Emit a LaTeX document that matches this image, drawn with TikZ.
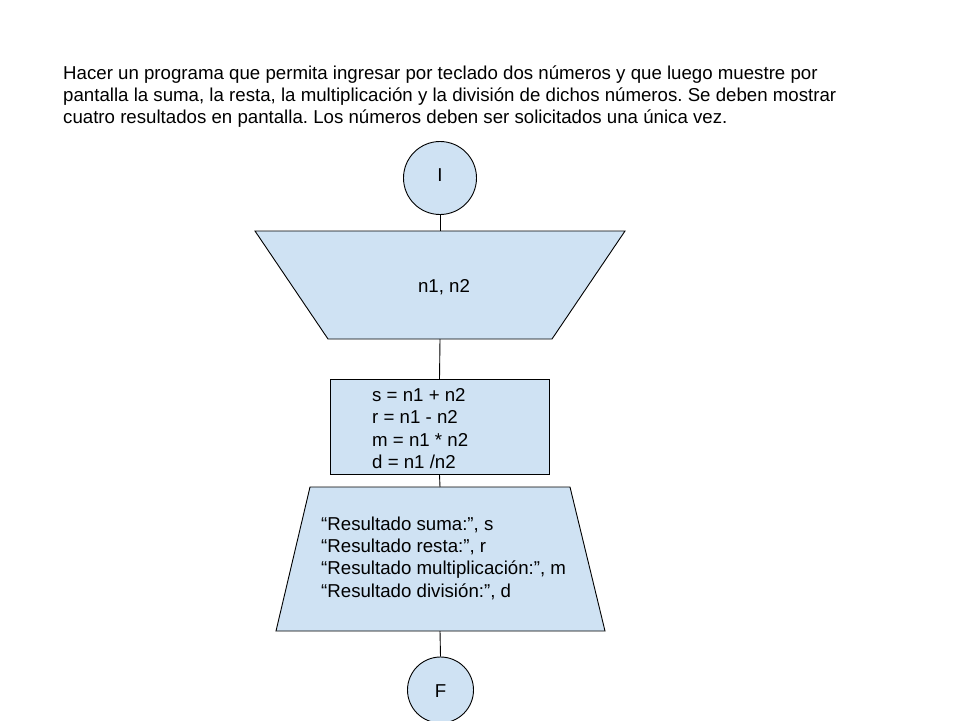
\documentclass[tikz,border=0pt]{standalone}
\usepackage{fontspec}
\setmainfont{Liberation Sans}
\frenchspacing
\definecolor{shapefill}{HTML}{CFE2F3}
\begin{document}
\begin{tikzpicture}[x=1pt,y=-1pt,
  shapebox/.style={draw=black,line width=0.9pt,fill=shapefill},
  conn/.style={draw=black,line width=0.9pt},
  txt/.style={inner sep=0pt,align=left,font=\fontsize{18.67}{22.3}\selectfont},
  toptxt/.style={inner sep=0pt,align=left,font=\fontsize{18.67}{22.2}\selectfont}]
\useasboundingbox (0,0) rectangle (960,720);
\fill[white] (0,0) rectangle (960,720);
% statement
\node[toptxt,anchor=base west] (stmt) at (63,123.4) {Hacer un programa que permita ingresar por teclado dos números y que luego muestre por\\pantalla la suma, la resta, la multiplicación y la división de dichos números. Se deben mostrar\\cuatro resultados en pantalla. Los números deben ser solicitados una única vez.};
% start
\node[shapebox,circle,minimum size=73pt,inner sep=0pt] (ini) at (440,178) {};
\node[txt,anchor=base] (initxt) at (440,181) {I};
% input trapezoid
\path[shapebox] (255,231) -- (625,231) -- (552,339) -- (328,339) -- cycle;
\coordinate (in1top) at (440,231);
\coordinate (in1bot) at (440,339);
\node[txt,anchor=base] (in1) at (444,292) {n1, n2};
% process
\node[shapebox,rectangle,minimum width=219pt,minimum height=95pt,inner sep=0pt] (proc) at (439.5,426.8) {};
\node[txt,anchor=base west] (proctxt) at (372,468.5) {s = n1 + n2\\r = n1 - n2\\m = n1 * n2\\d = n1 /n2};
% output trapezoid
\path[shapebox] (310,487) -- (570,487) -- (605,631) -- (276,631) -- cycle;
\coordinate (outtop) at (440,487);
\coordinate (outbot) at (440,631);
\node[txt,anchor=base west] (outtxt) at (321,597) {“Resultado suma:”, s\\“Resultado resta:”, r\\“Resultado multiplicación:”, m\\“Resultado división:”, d};
% end
\node[shapebox,circle,minimum size=66pt,inner sep=0pt] (fin) at (440.5,690) {};
\node[txt,anchor=base] (fintxt) at (440.5,697) {F};
% connectors
\draw[conn] (ini.south) -- (in1top);
\draw[conn] (in1bot) -- (proc.north);
\draw[conn] (proc.south) -- (outtop);
\draw[conn] (outbot) -- (fin.north);
\end{tikzpicture}
\end{document}
